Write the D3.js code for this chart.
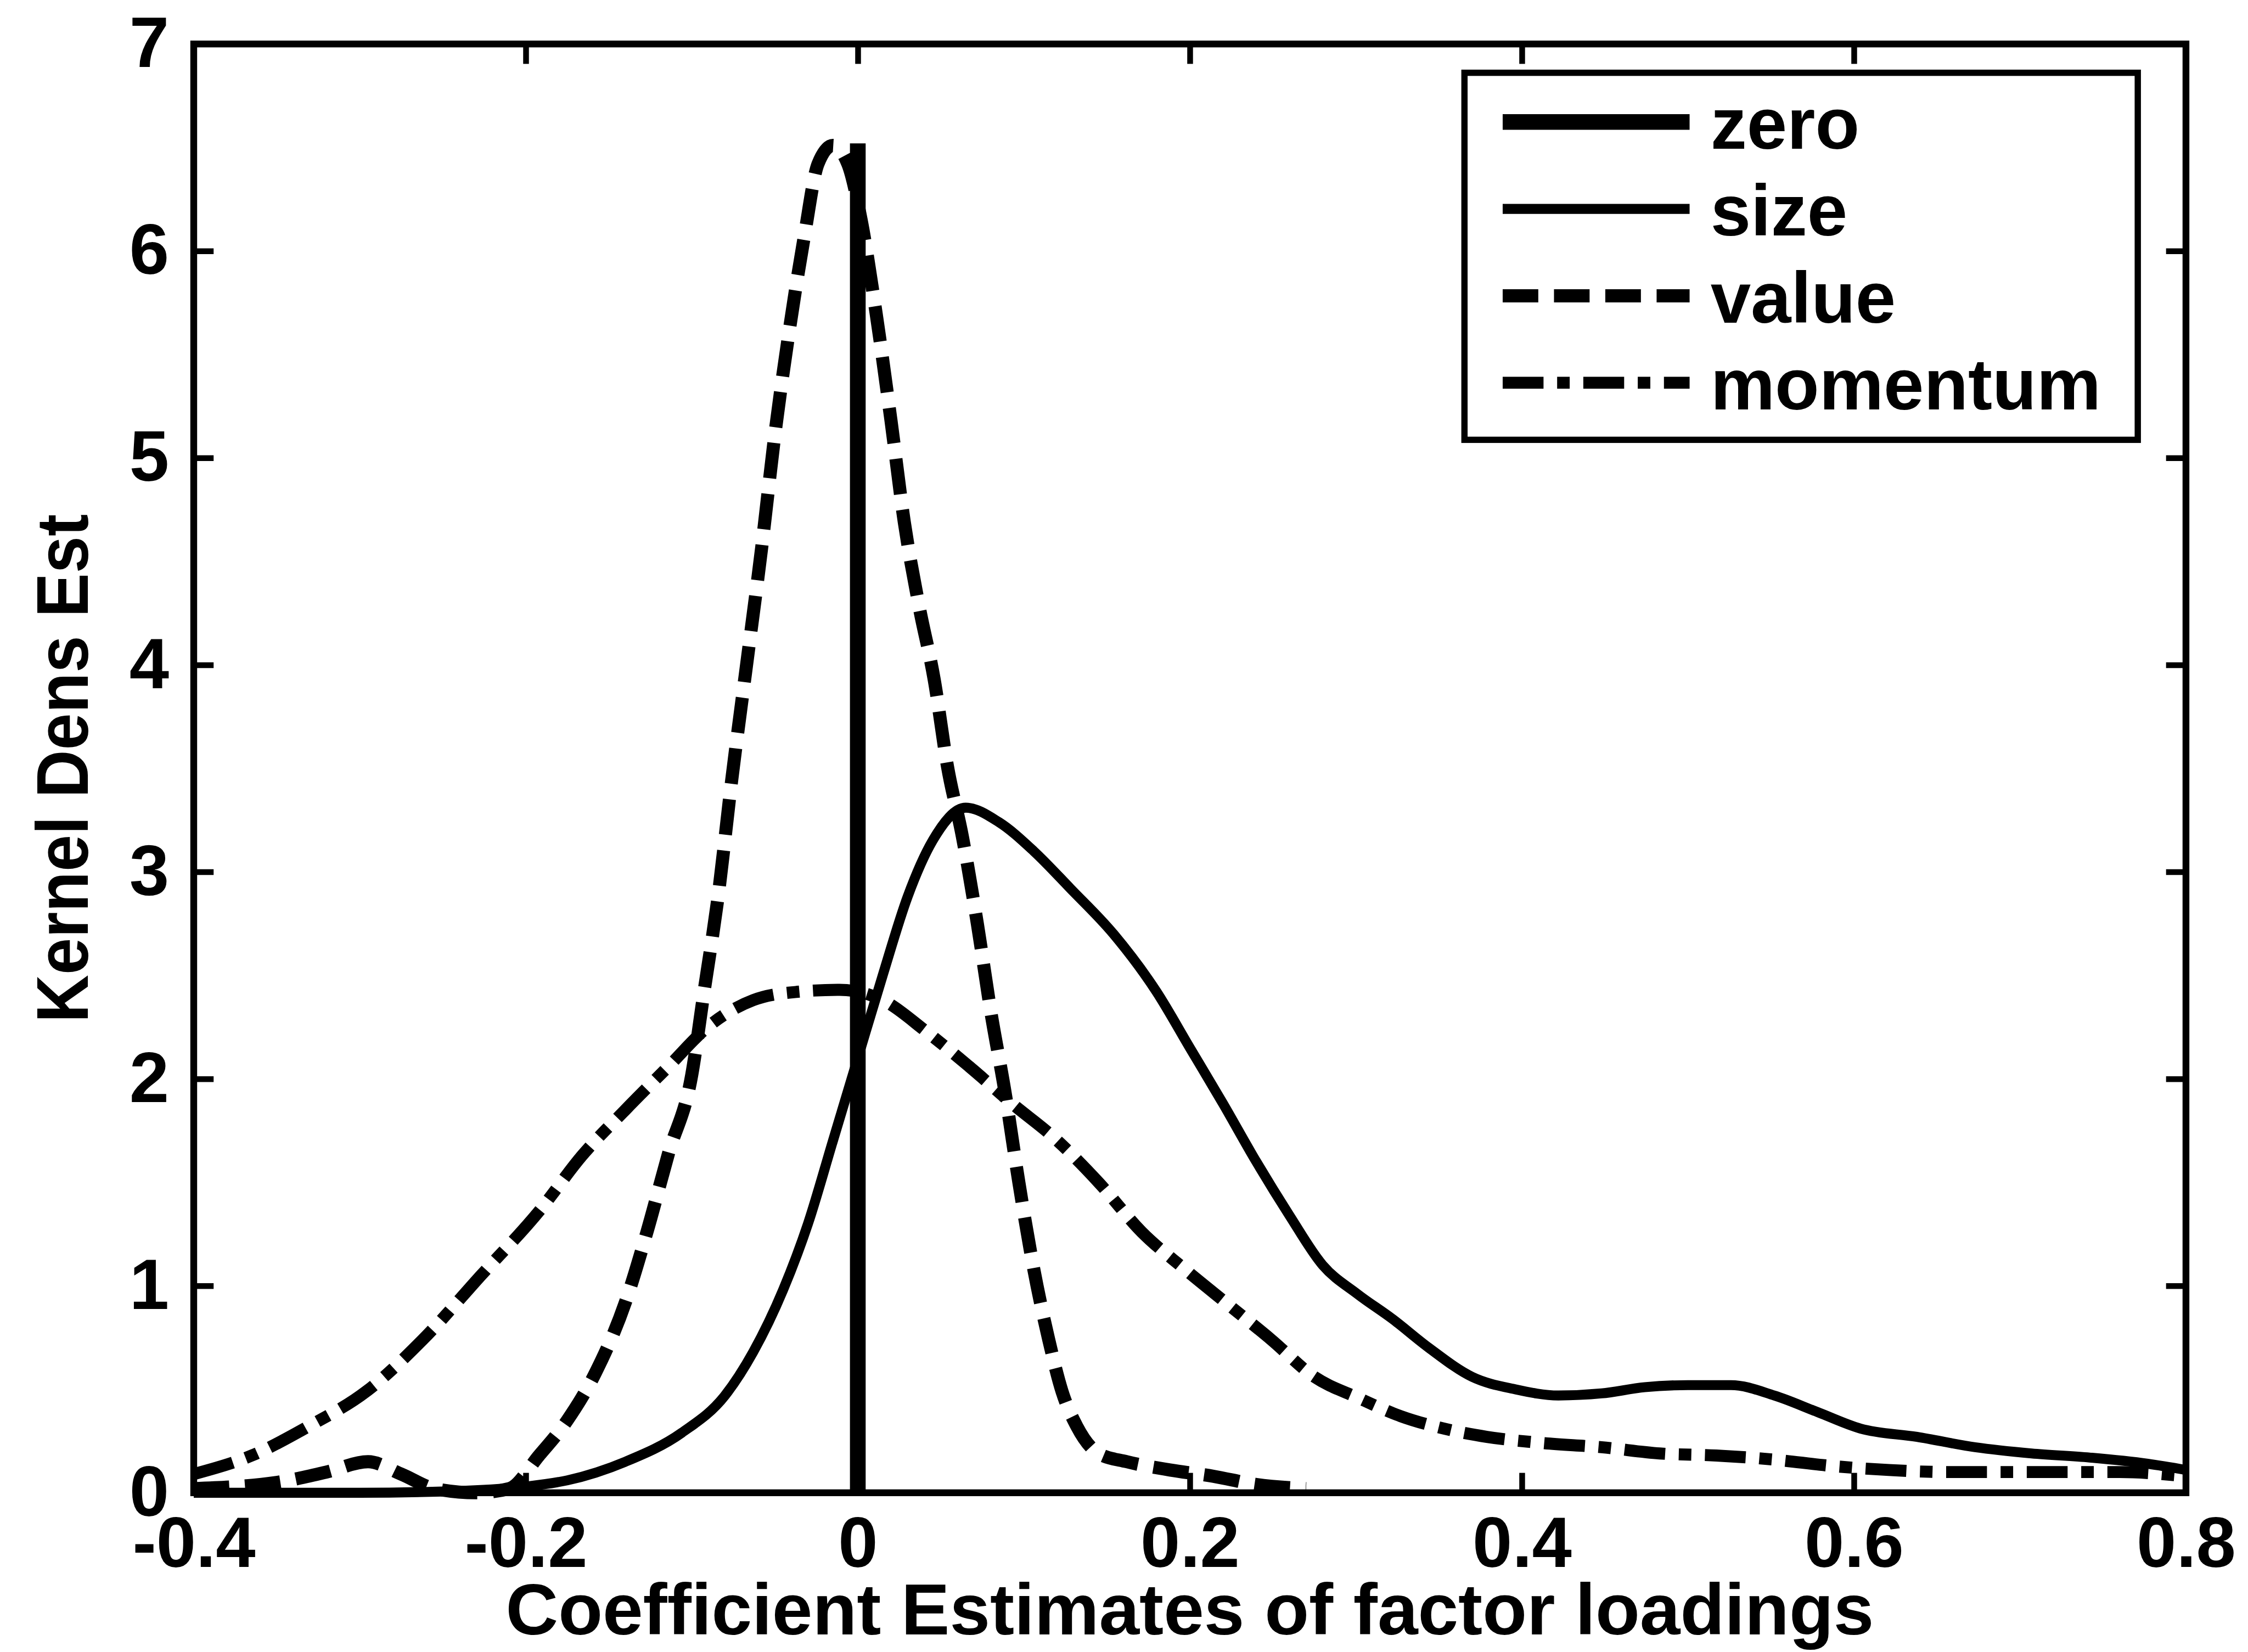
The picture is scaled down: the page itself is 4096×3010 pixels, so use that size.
<!DOCTYPE html>
<html>
<head>
<meta charset="utf-8">
<script src="https://cdn.jsdelivr.net/npm/d3@7"></script>
<style>
  html, body { margin: 0; padding: 0; background: #fff; }
  svg { display: block; }
  text { font-family: "Liberation Sans", Arial, sans-serif; font-weight: bold; fill: #000; }
</style>
</head>
<body>
<svg width="4096" height="3010"></svg>
<script>
// tick values and labels
var xTicks = [-0.4, -0.2, 0, 0.2, 0.4, 0.6, 0.8];
var xTickLabels = ["-0.4", "-0.2", "0", "0.2", "0.4", "0.6", "0.8"];
var yTicks = [0, 1, 2, 3, 4, 5, 6, 7];
var yTickLabels = ["0", "1", "2", "3", "4", "5", "6", "7"];

var seriesNames = ["zero", "size", "value", "momentum"];

// kernel density estimates [x, density]
var zeroLine = [[0, 0], [0, 6.52]];

var sizeKde = [
  [-0.4, 0.0], [-0.3, 0.0], [-0.236, 0.01], [-0.2, 0.03], [-0.175, 0.06], [-0.14, 0.15],
  [-0.106, 0.29], [-0.08, 0.47], [-0.063, 0.68], [-0.045, 0.98], [-0.03, 1.3],
  [-0.015, 1.7], [0.0, 2.1], [0.015, 2.5], [0.03, 2.88], [0.045, 3.15],
  [0.065, 3.31], [0.085, 3.24], [0.106, 3.1], [0.128, 2.92],
  [0.154, 2.7], [0.18, 2.42], [0.2, 2.15], [0.22, 1.88], [0.24, 1.6],
  [0.26, 1.34], [0.28, 1.1], [0.301, 0.96], [0.322, 0.84], [0.344, 0.7],
  [0.37, 0.56], [0.396, 0.5], [0.422, 0.47], [0.448, 0.48], [0.474, 0.51],
  [0.5, 0.52], [0.526, 0.52], [0.552, 0.47], [0.578, 0.39], [0.604, 0.31],
  [0.638, 0.27], [0.673, 0.22], [0.707, 0.19], [0.742, 0.17], [0.777, 0.14], [0.8, 0.11]
];

var valueKde = [
  [-0.4, 0.02], [-0.35, 0.05], [-0.32, 0.1], [-0.295, 0.15], [-0.275, 0.09],
  [-0.255, 0.02], [-0.23, 0.0], [-0.21, 0.02], [-0.192, 0.18], [-0.175, 0.35],
  [-0.158, 0.58], [-0.14, 0.92], [-0.127, 1.26], [-0.114, 1.64], [-0.1, 2.02],
  [-0.093, 2.4], [-0.084, 2.89], [-0.076, 3.44], [-0.067, 4.0], [-0.058, 4.56],
  [-0.05, 5.11], [-0.041, 5.63], [-0.032, 6.08], [-0.024, 6.42], [-0.015, 6.51],
  [-0.006, 6.42], [0.002, 6.15], [0.011, 5.7], [0.02, 5.18], [0.028, 4.69],
  [0.037, 4.28], [0.046, 3.93], [0.054, 3.51], [0.063, 3.17], [0.072, 2.75],
  [0.08, 2.33], [0.089, 1.92], [0.097, 1.5], [0.106, 1.08], [0.115, 0.74],
  [0.123, 0.49], [0.132, 0.32], [0.145, 0.19], [0.162, 0.15], [0.188, 0.11],
  [0.214, 0.08], [0.24, 0.04], [0.27, 0.02]
];

var momentumKde = [
  [-0.4, 0.09], [-0.365, 0.18], [-0.331, 0.32], [-0.296, 0.49], [-0.262, 0.74],
  [-0.227, 1.05], [-0.192, 1.36], [-0.166, 1.63], [-0.14, 1.85], [-0.114, 2.06],
  [-0.089, 2.26], [-0.063, 2.38], [-0.037, 2.42], [-0.011, 2.43], [0.015, 2.38],
  [0.041, 2.23], [0.067, 2.06], [0.093, 1.88], [0.119, 1.71], [0.145, 1.5],
  [0.171, 1.26], [0.197, 1.08], [0.223, 0.91], [0.249, 0.74], [0.275, 0.56],
  [0.301, 0.46], [0.327, 0.37], [0.353, 0.31], [0.379, 0.27], [0.413, 0.24],
  [0.448, 0.22], [0.483, 0.19], [0.517, 0.18], [0.552, 0.16], [0.586, 0.13],
  [0.621, 0.11], [0.656, 0.1], [0.69, 0.1], [0.725, 0.1], [0.76, 0.1], [0.8, 0.08]
];

var s = 0.954; // reference -> window

var svg = d3.select("svg");

var plotLeft = 370 * s, plotRight = 4175 * s, plotTop = 84 * s, plotBottom = 2851 * s;
var tickLen = 38 * s;
var fontSize = 130;

var x = d3.scaleLinear().domain([-0.4, 0.8]).range([plotLeft, plotRight]);
var y = d3.scaleLinear().domain([0, 7]).range([plotBottom, plotTop]);

// line styles
var styles = {
  zero:     { width: 30 * s, dash: null },
  size:     { width: 19 * s, dash: null },
  value:    { width: 25 * s, dash: [68 * s, 30 * s] },
  momentum: { width: 23 * s, dash: [78 * s, 26 * s, 24 * s, 26 * s] }
};

var curves = {
  zero: zeroLine,
  size: sizeKde,
  value: valueKde,
  momentum: momentumKde
};

var line = d3.line()
  .x(function(d) { return x(d[0]); })
  .y(function(d) { return y(d[1]); })
  .curve(d3.curveMonotoneX);

var straight = d3.line()
  .x(function(d) { return x(d[0]); })
  .y(function(d) { return y(d[1]); });

var plot = svg.append("g");

seriesNames.forEach(function(name) {
  var st = styles[name];
  plot.append("path")
    .datum(curves[name])
    .attr("d", name == "zero" ? straight : line)
    .attr("fill", "none")
    .attr("stroke", "#000")
    .attr("stroke-width", st.width)
    .attr("stroke-dasharray", st.dash ? st.dash.join(",") : null)
    .attr("stroke-linejoin", "round");
});

// axes, ticks pointing inward
var xAxis = d3.axisBottom(x)
  .tickValues(xTicks)
  .tickFormat(function(d, i) { return xTickLabels[i]; })
  .tickSize(-tickLen)
  .tickPadding(44 * s);

var yAxis = d3.axisLeft(y)
  .tickValues(yTicks)
  .tickFormat(function(d, i) { return yTickLabels[i]; })
  .tickSize(-tickLen)
  .tickPadding(47 * s);

var gx = svg.append("g").attr("transform", "translate(0," + plotBottom + ")").call(xAxis);
var gy = svg.append("g").attr("transform", "translate(" + plotLeft + ",0)").call(yAxis);
var gxt = svg.append("g").attr("transform", "translate(0," + plotTop + ")")
  .call(d3.axisTop(x).tickValues(xTicks).tickFormat("").tickSize(-tickLen));
var gyr = svg.append("g").attr("transform", "translate(" + plotRight + ",0)")
  .call(d3.axisRight(y).tickValues(yTicks).tickFormat("").tickSize(-tickLen));

[gx, gy, gxt, gyr].forEach(function(g) {
  g.select(".domain").remove();
  g.selectAll("line").attr("stroke", "#000").attr("stroke-width", 11 * s);
  g.selectAll("text")
    .style("font-size", fontSize + "px")
    .style("font-family", "'Liberation Sans', Arial, sans-serif")
    .style("font-weight", "bold")
    .attr("fill", "#000");
});
gx.selectAll("text").attr("dy", "0.72em");

// box
svg.append("rect")
  .attr("x", plotLeft).attr("y", plotTop)
  .attr("width", plotRight - plotLeft).attr("height", plotBottom - plotTop)
  .attr("fill", "none").attr("stroke", "#000").attr("stroke-width", 13 * s);

// axis titles
svg.append("text")
  .attr("x", (plotLeft + plotRight) / 2)
  .attr("y", 3122 * s)
  .attr("text-anchor", "middle")
  .attr("textLength", 2613 * s)
  .attr("lengthAdjust", "spacingAndGlyphs")
  .style("font-size", (fontSize + 2) + "px")
  .text("Coefficient Estimates of factor loadings");

svg.append("text")
  .attr("transform", "translate(" + (168 * s) + "," + ((plotTop + plotBottom) / 2) + ") rotate(-90)")
  .attr("text-anchor", "middle")
  .attr("textLength", 971 * s)
  .attr("lengthAdjust", "spacingAndGlyphs")
  .style("font-size", (fontSize + 4) + "px")
  .text("Kernel Dens Est");

// legend
var lg = svg.append("g");
lg.append("rect")
  .attr("x", 2797 * s).attr("y", 139 * s)
  .attr("width", (4083 - 2797) * s).attr("height", (840 - 139) * s)
  .attr("fill", "#fff").attr("stroke", "#000").attr("stroke-width", 12 * s);

var rowStep = 166 * s;
seriesNames.forEach(function(name, i) {
  var st = styles[name];
  var ly = 233 * s + i * rowStep;
  lg.append("line")
    .attr("x1", 2870 * s).attr("x2", 3227 * s)
    .attr("y1", ly).attr("y2", ly)
    .attr("stroke", "#000")
    .attr("stroke-width", st.width)
    .attr("stroke-dasharray", st.dash ? st.dash.join(",") : null);
  lg.append("text")
    .attr("x", 3267 * s)
    .attr("y", 284 * s + i * rowStep)
    .style("font-size", (fontSize + 2) + "px")
    .text(name);
});
</script>
</body>
</html>
